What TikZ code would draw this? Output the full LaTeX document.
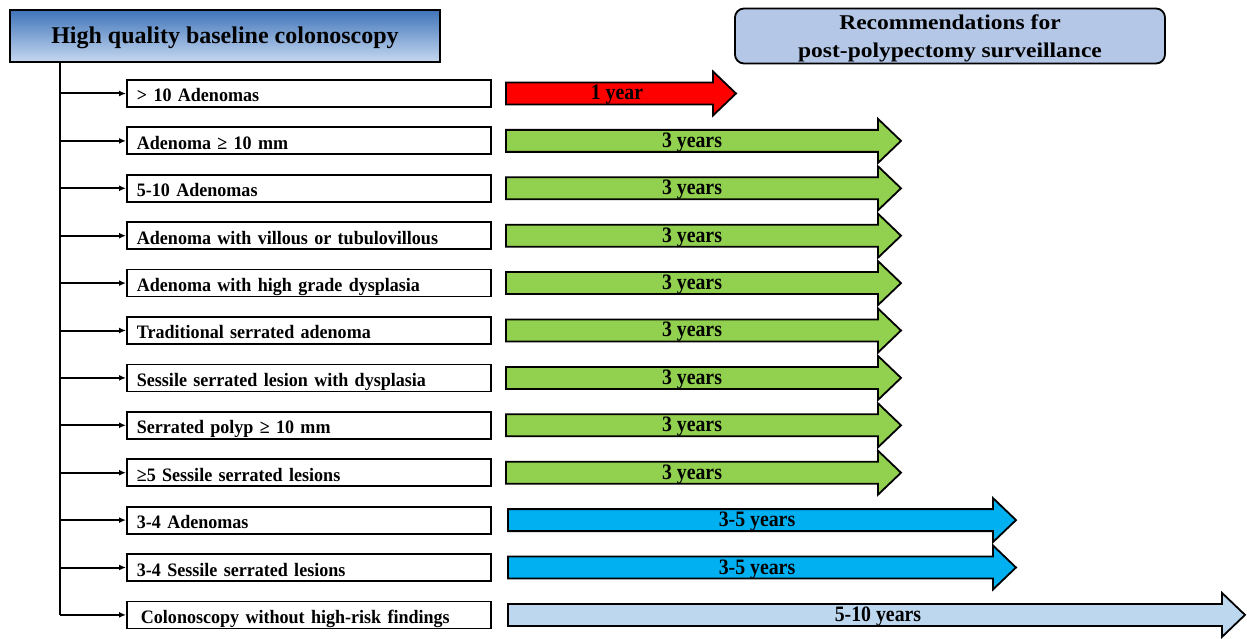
\documentclass[tikz,border=0pt]{standalone}
\usepackage{fontspec}
\setmainfont{Liberation Serif}
\newfontfamily\widefont{Liberation Serif}[FakeStretch=1.12]
\newfontfamily\narrowfont{Liberation Serif}[FakeStretch=0.9]
\newfontfamily\boxfont{Liberation Serif}[FakeStretch=0.95]
\usetikzlibrary{arrows.meta}
\definecolor{hdtop}{HTML}{3F74B9}
\definecolor{hdbot}{HTML}{C6D8F0}
\definecolor{recfill}{HTML}{B4C7E7}
\definecolor{cRed}{HTML}{FF0000}
\definecolor{cGreen}{HTML}{92D050}
\definecolor{cBlue}{HTML}{00B0F0}
\definecolor{cPale}{HTML}{BDD7EE}
\begin{document}
\begin{tikzpicture}[x=1bp,y=-1bp,
  hdr/.style={draw, line width=1.8bp, inner sep=0pt},
  findbox/.style={draw, line width=1.8bp, anchor=west, minimum width=364bp, minimum height=27bp,
    inner xsep=10bp, inner ysep=0pt, text width=344bp, align=left,
    text height=17bp, text depth=0bp, font=\boxfont\bfseries\fontsize{19bp}{21bp}\selectfont},
  intlabel/.style={inner sep=0pt, text height=13bp, text depth=0bp,
    font=\narrowfont\bfseries\fontsize{22bp}{24bp}\selectfont},
  intarrow/.style={draw, line width=1.8bp, line join=miter},
  trunk/.style={line width=2bp},
  branch/.style={line width=2bp, -{Latex[length=7bp,width=6bp]}}
]
\useasboundingbox (0,0) rectangle (1247,639);

% header boxes
\node[hdr, top color=hdtop, bottom color=hdbot, minimum width=430bp, minimum height=52bp,
  text height=16bp, text depth=0bp, font=\bfseries\fontsize{24bp}{26bp}\selectfont]
  (base) at (225,36) {High quality baseline colonoscopy};
\node[hdr, fill=recfill, rounded corners=9bp, minimum width=430bp, minimum height=55bp] (rec) at (950,36) {};
\node[inner sep=0pt, align=center, font=\widefont\bfseries\fontsize{21bp}{28bp}\selectfont]
  (rectext) at (950,38) {Recommendations for\\post-polypectomy surveillance};

% findings and their surveillance intervals
\foreach \i/\txt/\tip/\xs/\col/\lab/\lx in {
  1/{> 10 Adenomas}/736/506/cRed/{1 year}/617,
  2/{Adenoma ≥ 10 mm}/901/506/cGreen/{3 years}/692,
  3/{5-10 Adenomas}/901/506/cGreen/{3 years}/692,
  4/{Adenoma with villous or tubulovillous}/901/506/cGreen/{3 years}/692,
  5/{Adenoma with high grade dysplasia}/901/506/cGreen/{3 years}/692,
  6/{Traditional serrated adenoma}/901/506/cGreen/{3 years}/692,
  7/{Sessile serrated lesion with dysplasia}/901/506/cGreen/{3 years}/692,
  8/{Serrated polyp ≥ 10 mm}/901/506/cGreen/{3 years}/692,
  9/{≥5 Sessile serrated lesions}/901/506/cGreen/{3 years}/692,
  10/{3-4 Adenomas}/1016/508/cBlue/{3-5 years}/757,
  11/{3-4 Sessile serrated lesions}/1016/508/cBlue/{3-5 years}/757,
  12/{\hspace{4bp}Colonoscopy without high-risk findings}/1245/508/cPale/{5-10 years}/878}{
  \pgfmathsetmacro{\y}{93.5+47.4*(\i-1)}
  \pgfmathsetmacro{\hb}{\tip-23}
  \node[findbox] (c\i) at (126,\y) {\txt};
  \coordinate (t\i) at (60,\y);
  \draw[intarrow, fill=\col] (\xs,\y-11) -- (\hb,\y-11) -- (\hb,\y-22) -- (\tip,\y)
    -- (\hb,\y+22) -- (\hb,\y+11) -- (\xs,\y+11) -- cycle;
  \node[intlabel] (l\i) at (\lx,\y) {\lab};
  \draw[branch] (t\i) -- (c\i.west);
}

% trunk from the baseline colonoscopy box
\coordinate (trunktop) at (60,62);
\draw[trunk] (trunktop) -- (t12);
\end{tikzpicture}
\end{document}
